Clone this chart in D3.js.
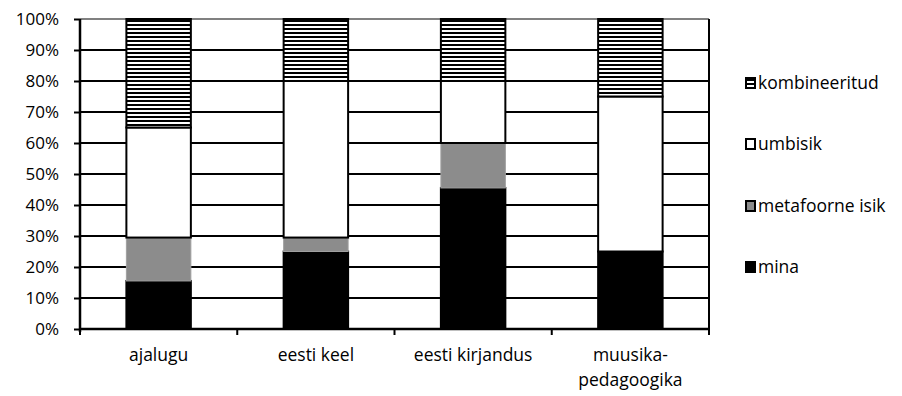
<!DOCTYPE html>
<html><head><meta charset="utf-8">
<script src="https://cdn.jsdelivr.net/npm/d3@7"></script>
<style>body{margin:0;background:#fff}svg{display:block}text{font-family:"Open Sans",Lato,sans-serif;fill:#000}</style>
</head><body>
<script>
const categories = ["ajalugu", "eesti keel", "eesti kirjandus", "muusika-\npedagoogika"];
const seriesNames = ["mina", "metafoorne isik", "umbisik", "kombineeritud"];
const mina = [15.5, 25, 45.5, 25];
const metafoorne = [14, 4.5, 14.5, 0];
const umbisik = [35.5, 50.5, 20, 50];
const kombineeritud = [35, 20, 20, 25];
const yTicks = [0,10,20,30,40,50,60,70,80,90,100];

const W = 902, H = 396;
const m = {l: 80, r: 709, t: 19, b: 329};
const svg = d3.select("body").append("svg").attr("width", W).attr("height", H);
const defs = svg.append("defs");
const pat = defs.append("pattern").attr("id","hatch").attr("patternUnits","userSpaceOnUse")
  .attr("width",8).attr("height",4);
pat.append("rect").attr("width",8).attr("height",4).attr("fill","#fff");
pat.append("rect").attr("y",0).attr("width",8).attr("height",2).attr("fill","#000");

const x = d3.scaleBand().domain(categories).range([m.l, m.r]).paddingInner(0.59).paddingOuter(0.295);
const xb = d3.scaleBand().domain(categories).range([m.l, m.r]);
const y = d3.scaleLinear().domain([0,100]).range([m.b, m.t]);

// grid
svg.append("g").selectAll("line").data(yTicks.filter(d=>d>0 && d<100)).join("line")
  .attr("x1", m.l).attr("x2", m.r).attr("y1", d=>y(d)).attr("y2", d=>y(d))
  .attr("stroke","#000").attr("stroke-width",2);
svg.append("line").attr("x1",m.l).attr("x2",m.r).attr("y1",y(100)).attr("y2",y(100)).attr("stroke","#808080").attr("stroke-width",2);
svg.append("line").attr("x1",m.r).attr("x2",m.r).attr("y1",m.t).attr("y2",m.b).attr("stroke","#000").attr("stroke-width",2);

const fills = {"mina":"#000","metafoorne isik":"#8c8c8c","umbisik":"#fff","kombineeritud":"url(#hatch)"};
const data = categories.map((c,i)=>({cat:c, "mina":mina[i], "metafoorne isik":metafoorne[i], "umbisik":umbisik[i], "kombineeritud":kombineeritud[i]}));
const stack = d3.stack().keys(seriesNames)(data);
svg.append("g").selectAll("g").data(stack).join("g")
  .selectAll("rect").data(s=>s.map(d=>({d, key:s.key}))).join("rect")
  .attr("x", o=>x(o.d.data.cat)).attr("width", x.bandwidth())
  .attr("y", o=>y(o.d[1])).attr("height", o=>y(o.d[0])-y(o.d[1]))
  .attr("fill", o=>fills[o.key])
  .attr("stroke", o=>o.key==="metafoorne isik" ? "#a0a0a0" : "#000")
  .attr("stroke-width", o=>o.key==="metafoorne isik" ? 1 : 2)
  .attr("display", o=>o.d[1]-o.d[0] > 0 ? null : "none");

// axes
const ya = svg.append("g").attr("transform",`translate(${m.l},0)`)
  .call(d3.axisLeft(y).tickValues(yTicks).tickFormat(d=>d+"%").tickSize(6).tickPadding(15));
ya.select(".domain").attr("stroke","#000").attr("stroke-width",2.5).attr("d",`M0,${m.t}V${m.b+3}`);
ya.selectAll(".tick line").attr("stroke","#000").attr("stroke-width",2);
ya.selectAll(".tick text").style("font-size","17px").attr("dy","0.35em").attr("x",-21);

const xa = svg.append("g").attr("transform",`translate(0,${m.b})`);
xa.append("line").attr("x1",m.l).attr("x2",m.r).attr("stroke","#000").attr("stroke-width",2.5);
xa.selectAll("line.t").data(categories.map(c=>xb(c)).concat([m.r])).join("line").attr("class","t")
  .attr("x1",d=>d).attr("x2",d=>d).attr("y1",0).attr("y2",6).attr("stroke","#000").attr("stroke-width",2);
xa.selectAll("text").data(categories).join("text")
  .attr("text-anchor","middle").attr("x", c=>xb(c)+xb.bandwidth()/2).attr("y", 32)
  .style("font-size","17.5px")
  .each(function(c){
    const parts = c.split("\n");
    d3.select(this).selectAll("tspan").data(parts).join("tspan")
      .attr("x", xb(c)+xb.bandwidth()/2).attr("dy",(d,i)=>i?"1.4em":0).text(d=>d);
  });

// legend
const legOrder = ["kombineeritud","umbisik","metafoorne isik","mina"];
const legY = [83, 144, 206, 267];
const lg = svg.append("g").selectAll("g").data(legOrder).join("g")
  .attr("transform",(d,i)=>`translate(745,${legY[i]})`);
lg.append("rect").attr("x",1).attr("y",-5).attr("width",9).attr("height",10)
  .attr("fill",d=>fills[d]).attr("stroke","#000").attr("stroke-width",2);
lg.append("text").attr("x",13).attr("y",0).attr("dy","0.35em").style("font-size","17.5px").text(d=>d);
</script>
</body></html>
